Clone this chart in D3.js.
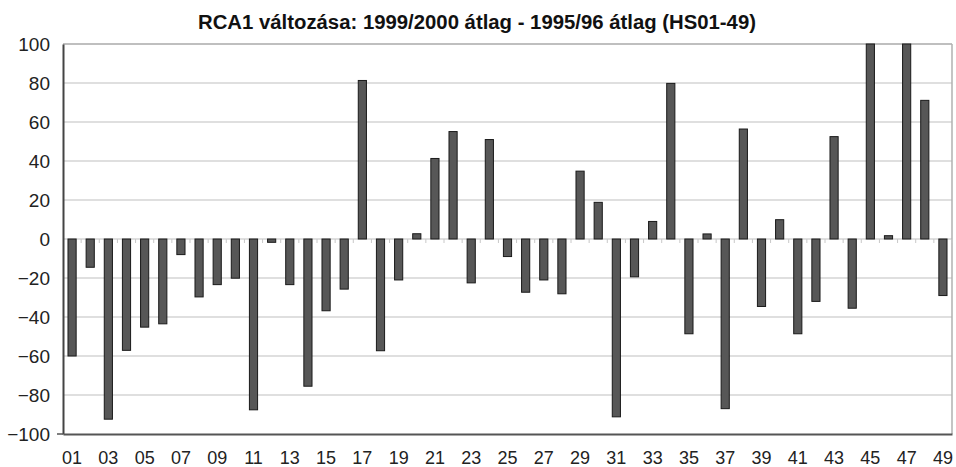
<!DOCTYPE html>
<html lang="hu">
    <head>
        <meta charset="utf-8" />
        <title>RCA1 változása</title>
        <script src="https://cdn.jsdelivr.net/npm/d3@7"></script>
        <style type="text/css">
            body { margin: 0; background: #fff; }
            svg { display: block; font-family: "Liberation Sans", Arial, sans-serif; }
        </style>
    </head>
    <body>
        <script type="text/javascript">
            // HS chapters 01..49
            var categories = d3.range(1, 50).map(function (i) { return (i < 10 ? "0" : "") + i; });

            // RCA1 change
            var values = [
                -60, -14.5, -92.4, -57.1, -45.2, -43.5, -8, -29.7, -23.4, -20.1,
                -87.6, -1.7, -23.4, -75.5, -36.8, -25.7, 81.3, -57.3, -21, 2.7,
                41.3, 55.1, -22.5, 51, -9, -27.3, -21, -28.1, 34.8, 18.8,
                -91.2, -19.4, 9, 79.8, -48.6, 2.6, -87, 56.4, -34.6, 9.9,
                -48.6, -32, 52.5, -35.5, 100, 1.7, 100, 71.1, -29
            ];

            var yTicks = [-100, -80, -60, -40, -20, 0, 20, 40, 60, 80, 100];
            var xLabels = categories.filter(function (d, i) { return i % 2 === 0; });

            var width = 956, height = 467;
            var margin = { top: 44, right: 4, bottom: 33, left: 63 };

            var svg = d3.select("body").append("svg")
                .attr("width", width)
                .attr("height", height);

            var x = d3.scaleBand()
                .domain(categories)
                .range([margin.left, width - margin.right])
                .paddingInner(0.55)
                .paddingOuter(0.275);

            var y = d3.scaleLinear()
                .domain([-100, 100])
                .range([height - margin.bottom, margin.top]);

            // title
            svg.append("text")
                .attr("x", 477)
                .attr("y", 29)
                .attr("text-anchor", "middle")
                .attr("textLength", 558)
                .attr("lengthAdjust", "spacingAndGlyphs")
                .style("font-size", "19.5px")
                .style("font-weight", "bold")
                .attr("fill", "#111")
                .text("RCA1 változása: 1999/2000 átlag - 1995/96 átlag (HS01-49)");

            // grid lines
            svg.append("g")
                .selectAll("line")
                .data(yTicks.filter(function (d) { return d !== -100; }))
                .enter()
                .append("line")
                .attr("x1", margin.left)
                .attr("x2", width - margin.right)
                .attr("y1", function (d) { return y(d); })
                .attr("y2", function (d) { return y(d); })
                .attr("stroke", function (d) { return d === 100 ? "#aaa" : "#d4d4d4"; })
                .attr("stroke-width", 1.5);

            // right border
            svg.append("line")
                .attr("x1", width - margin.right).attr("x2", width - margin.right)
                .attr("y1", margin.top).attr("y2", y(-100))
                .attr("stroke", "#b0b0b0")
                .attr("stroke-width", 1.5);

            // small ticks on the zero line, between categories
            var step = x.step();
            svg.append("g")
                .selectAll("line")
                .data(categories)
                .enter()
                .append("line")
                .attr("x1", function (d) { return x(d) - x.paddingOuter() * step + step; })
                .attr("x2", function (d) { return x(d) - x.paddingOuter() * step + step; })
                .attr("y1", y(0))
                .attr("y2", y(0) + 4)
                .attr("stroke", "#c8c8c8")
                .attr("stroke-width", 1);

            // bars
            svg.append("g")
                .selectAll("rect")
                .data(values)
                .enter()
                .append("rect")
                .attr("x", function (d, i) { return x(categories[i]); })
                .attr("width", x.bandwidth())
                .attr("y", function (d) { return y(Math.max(0, d)); })
                .attr("height", function (d) { return Math.abs(y(d) - y(0)); })
                .attr("fill", "#575757")
                .attr("stroke", "#1a1a1a")
                .attr("stroke-width", 1);

            // y axis
            var yAxis = svg.append("g")
                .attr("transform", "translate(" + margin.left + ",0)")
                .call(d3.axisLeft(y).tickValues(yTicks).tickSize(0).tickPadding(13));
            yAxis.select(".domain").attr("stroke", "#444").attr("stroke-width", 2);
            yAxis.selectAll("text")
                .style("font-size", "19px")
                .attr("fill", "#222")
                .attr("font-family", "Liberation Sans, Arial, sans-serif");

            // bottom axis
            var xAxis = svg.append("g")
                .attr("transform", "translate(0," + y(-100) + ")")
                .call(d3.axisBottom(x).tickValues(xLabels).tickSize(0).tickPadding(17));
            xAxis.select(".domain").attr("stroke", "#555").attr("stroke-width", 2);
            xAxis.selectAll("text")
                .style("font-size", "18px")
                .attr("fill", "#222")
                .attr("font-family", "Liberation Sans, Arial, sans-serif");
            xAxis.append("line")
                .attr("x1", margin.left - 6).attr("x2", margin.left)
                .attr("y1", 0).attr("y2", 0)
                .attr("stroke", "#555").attr("stroke-width", 1.5);
        </script>
    </body>
</html>
